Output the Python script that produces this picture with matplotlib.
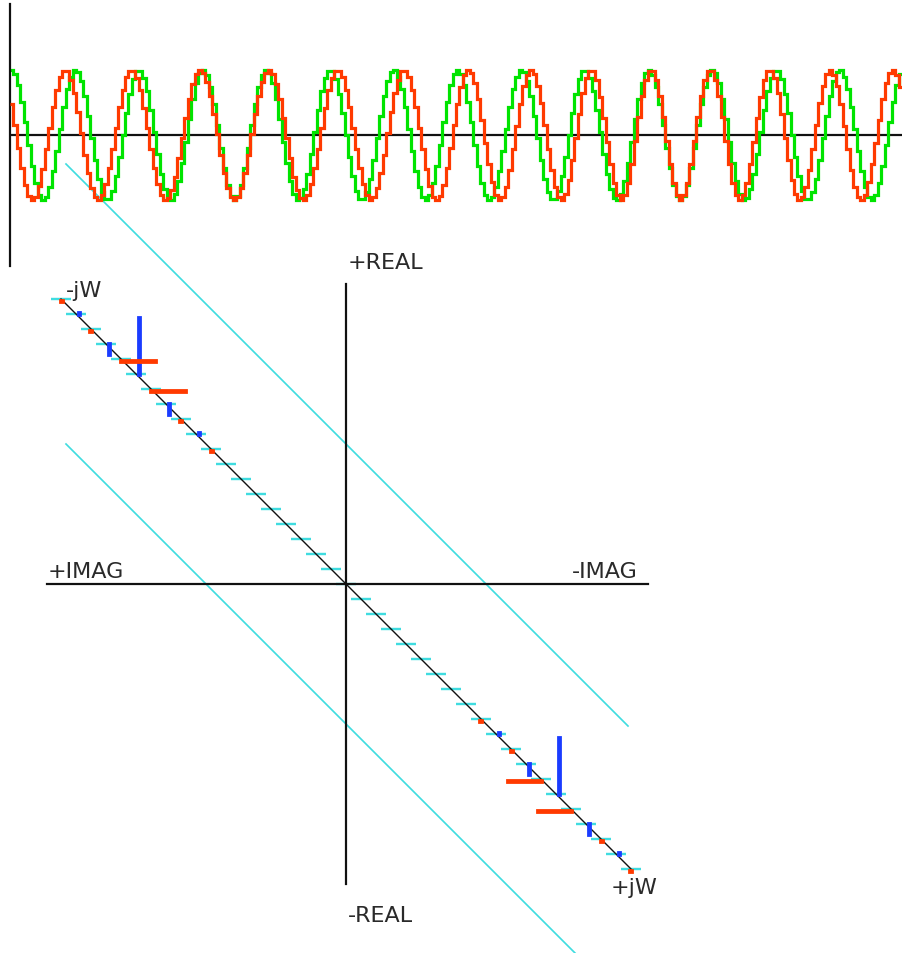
import numpy as np
import matplotlib
matplotlib.use('Agg')
import matplotlib.pyplot as plt

# Muestras de las dos ondas (en % de la amplitud), 256 muestras cada una
green_wave = [
    100, 94, 77, 51, 20, -15, -47, -74, -92, -100,
    -96, -80, -56, -24, 10, 43, 71, 90, 100, 97,
    83, 60, 29, -5, -38, -67, -88, -99, -98, -86,
    -63, -34, 0, 34, 63, 86, 98, 99, 88, 67,
    38, 5, -29, -60, -83, -97, -100, -90, -71, -43,
    -10, 24, 56, 80, 96, 100, 92, 74, 47, 15,
    -20, -51, -77, -94, -100, -94, -77, -51, -20, 15,
    47, 74, 92, 100, 96, 80, 56, 24, -10, -43,
    -71, -90, -100, -97, -83, -60, -29, 5, 38, 67,
    88, 99, 98, 86, 63, 34, 0, -34, -63, -86,
    -98, -99, -88, -67, -38, -5, 29, 60, 83, 97,
    100, 90, 71, 43, 10, -24, -56, -80, -96, -100,
    -92, -74, -47, -15, 20, 51, 77, 94,
    100, 94, 77, 51, 20, -15, -47, -74, -92, -100,
    -96, -80, -56, -24, 10, 43, 71, 90, 100, 97,
    83, 60, 29, -5, -38, -67, -88, -99, -98, -86,
    -63, -34, 0, 34, 63, 86, 98, 99, 88, 67,
    38, 5, -29, -60, -83, -97, -100, -90, -71, -43,
    -10, 24, 56, 80, 96, 100, 92, 74, 47, 15,
    -20, -51, -77, -94, -100, -94, -77, -51, -20, 15,
    47, 74, 92, 100, 96, 80, 56, 24, -10, -43,
    -71, -90, -100, -97, -83, -60, -29, 5, 38, 67,
    88, 99, 98, 86, 63, 34, 0, -34, -63, -86,
    -98, -99, -88, -67, -38, -5, 29, 60, 83, 97,
    100, 90, 71, 43, 10, -24, -56, -80, -96, -100,
    -92, -74, -47, -15, 20, 51, 77, 94,
]

red_wave = [
    47, 15, -20, -51, -77, -94, -100, -95, -78, -53,
    -22, 11, 43, 70, 90, 99, 98, 85, 64, 35,
    3, -30, -59, -82, -96, -100, -93, -76, -51, -21,
    11, 43, 69, 89, 99, 99, 88, 69, 42, 11,
    -21, -51, -75, -92, -100, -97, -85, -64, -36, -5,
    26, 55, 79, 94, 100, 96, 82, 60, 33, 1,
    -30, -58, -81, -95, -100, -95, -81, -58, -30, 1,
    33, 60, 82, 96, 100, 94, 79, 55, 26, -5,
    -36, -64, -85, -97, -100, -92, -75, -51, -21, 11,
    42, 69, 88, 99, 99, 89, 69, 43, 11, -21,
    -51, -76, -93, -100, -96, -82, -59, -30, 3, 35,
    64, 85, 98, 99, 90, 70, 43, 11, -22, -53,
    -78, -95, -100, -94, -77, -51, -20, 15,
    47, 74, 92, 100, 96, 80, 55, 23, -12, -45,
    -73, -92, -100, -96, -80, -54, -21, 14, 47, 75,
    93, 100, 94, 76, 49, 15, -21, -54, -80, -96,
    -100, -90, -69, -39, -4, 32, 64, 87, 99, 98,
    84, 59, 26, -10, -45, -74, -93, -100, -93, -74,
    -45, -9, 27, 60, 85, 98, 98, 85, 60, 28,
    -9, -44, -74, -93, -100, -93, -74, -44, -9, 28,
    60, 85, 98, 98, 85, 60, 27, -9, -45, -74,
    -93, -100, -93, -74, -45, -10, 26, 59, 84, 98,
    99, 87, 64, 32, -4, -39, -69, -90, -100, -96,
    -80, -54, -21, 15, 49, 76, 94, 100, 93, 75,
    47, 14, -21, -54, -80, -96, -100, -92, -73, -45,
    -12, 23, 55, 80, 96, 100, 92, 74,
]

# Espectro: bins -19..19 sobre la diagonal (-jW arriba a la izquierda, +jW abajo)
freq_bins = list(range(-19, 20))
real_part = [0, 1, 0, -10, 0, 56, 0, -10, 0, 1, 0,
             0, 0, 0, 0, 0, 0, 0, 0, 0, 0, 0, 0, 0, 0, 0, 0, 0,
             0, 1, 0, -10, 0, 56, 0, -10, 0, 1, 0]
imag_part = [1, 0, -1, 0, 34, 0, 34, 0, -1, 0, 1,
             0, 0, 0, 0, 0, 0, 0, 0, 0, 0, 0, 0, 0, 0, 0, 0, 0,
             -1, 0, 1, 0, -33, 0, -33, 0, 1, 0, -1]

plane_labels = ['+REAL', '-REAL', '+IMAG', '-IMAG', '-jW', '+jW']

# colores
RED = '#FF3A00'
GREEN = '#00E400'
BLUE = '#1A3CFF'
CYAN = '#40DCE0'
INK = '#111111'
PX = 0.72  # 1 pixel en puntos (dpi=100)

W, H = 902, 954
fig = plt.figure(figsize=(W / 100, H / 100), dpi=100)

# ---- plano complejo: ejes que cubren toda la figura, 1 unidad = 1 px ----
cx, cy = 346, 585
plane = fig.add_axes([0, 0, 1, 1])
plane.set_xlim(-cx, W - cx)
plane.set_ylim(-(H - cy), cy)
plane.axis('off')

bin_px = 15
px = np.array(freq_bins) * bin_px
py = -px
re = np.array(real_part)
im = np.array(imag_part)

# lineas cian paralelas
for off in (140, -140):
    plane.plot([-280, 282], [280 + off, -282 + off], color=CYAN, lw=1.7 * PX, zorder=1)

# marcas de cada bin
plane.hlines(py + 0.5, px - 10, px + 10, colors=CYAN, lw=2.4 * PX, zorder=2)
plane.plot([px[0], px[-1]], [py[0], py[-1]], color=INK, lw=1.4 * PX, zorder=3)

# ejes del plano
plane.plot([-299, 302], [0, 0], color=INK, lw=2.2 * PX, zorder=4)
plane.plot([0, 0], [300, -300], color=INK, lw=2.2 * PX, zorder=4)

# barras: parte real vertical (azul), parte imaginaria horizontal (roja)
m = re != 0
plane.vlines(px[m] + 2.5, py[m], py[m] + re[m], colors=BLUE, lw=4.8 * PX,
             capstyle='projecting', zorder=5)
m = im != 0
plane.hlines(py[m] - 2, px[m], px[m] + im[m], colors=RED, lw=4.8 * PX,
             capstyle='projecting', zorder=5)

label_pos = [(2, 322), (2, -331), (-298, 13), (226, 13), (-280, 294), (265, -303)]
for txt, (tx, ty) in zip(plane_labels, label_pos):
    plane.text(tx, ty, txt, fontsize=16, color='#2a2a2a', ha='left', va='center',
               family='DejaVu Sans')

# ---- ondas arriba ----
wave = fig.add_axes([10 / W, 1 - 267 / H, 892 / W, 262 / H])
wave.patch.set_alpha(0)
wave.set_xlim(0, len(red_wave))
wave.set_ylim(-131 / 65 * 100, 131 / 65 * 100)
for s in ['top', 'right', 'bottom']:
    wave.spines[s].set_visible(False)
wave.spines['left'].set_linewidth(2.2 * PX)
wave.spines['left'].set_color(INK)
wave.set_xticks([])
wave.set_yticks([])
wave.axhline(0, color=INK, lw=2.2 * PX, zorder=1)

edges = np.arange(len(red_wave) + 1)
wave.stairs(green_wave, edges, baseline=None, color=GREEN, lw=3.2 * PX, zorder=2)
wave.stairs(red_wave, edges, baseline=None, color=RED, lw=3.2 * PX, zorder=3)

fig.savefig('out.png', dpi=100)
